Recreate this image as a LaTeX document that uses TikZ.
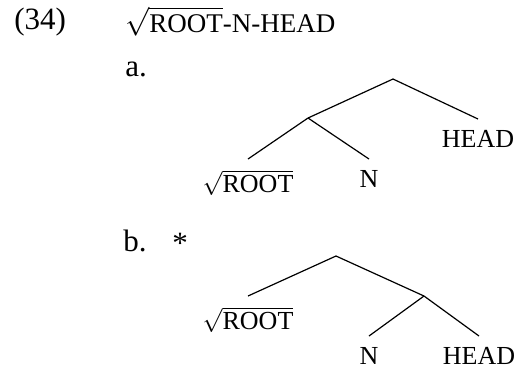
\documentclass[tikz,border=0pt]{standalone}
\usepackage{fontspec}
\setmainfont{Liberation Serif}
\newcommand{\rootlbl}{$\sqrt{\mbox{ROOT}}$}
\tikzset{
    lbl/.style={anchor=base west, inner sep=0pt, font=\fontsize{15.5}{18}\selectfont},
    leaf/.style={anchor=north, inner sep=5.5pt, font=\fontsize{13}{15}\selectfont},
    br/.style={line width=0.6pt}
}
\begin{document}
\begin{tikzpicture}[x=0.5pt,y=-0.5pt]
    \useasboundingbox (0,0) rectangle (519,372);
    \node[lbl] (ex) at (14,29) {(34)};
    \node[lbl, font=\fontsize{13.5}{16}\selectfont] (title) at (125,32) {\rootlbl-N-HEAD};
    \node[lbl] (la) at (125,76) {a.};
    \node[lbl] (lb) at (123,251) {b.};
    \node[lbl] (star) at (172,253) {*};

    \coordinate (aA) at (393,79);
    \coordinate (aB) at (308,118);
    \node[leaf] (aRoot) at (248,159) {\rootlbl};
    \node[leaf] (aN) at (369,159) {N};
    \node[leaf] (aHead) at (478,119) {HEAD};

    \coordinate (bA) at (336,256);
    \coordinate (bB) at (424,296);
    \node[leaf] (bRoot) at (248,296) {\rootlbl};
    \node[leaf] (bN) at (369,336) {N};
    \node[leaf] (bHead) at (479,336) {HEAD};

    \foreach \p/\c in {aA/aB, aA/aHead.north, aB/aRoot.north, aB/aN.north,
        bA/bRoot.north, bA/bB, bB/bN.north, bB/bHead.north}
        \draw[br] (\p) -- (\c);
\end{tikzpicture}
\end{document}
